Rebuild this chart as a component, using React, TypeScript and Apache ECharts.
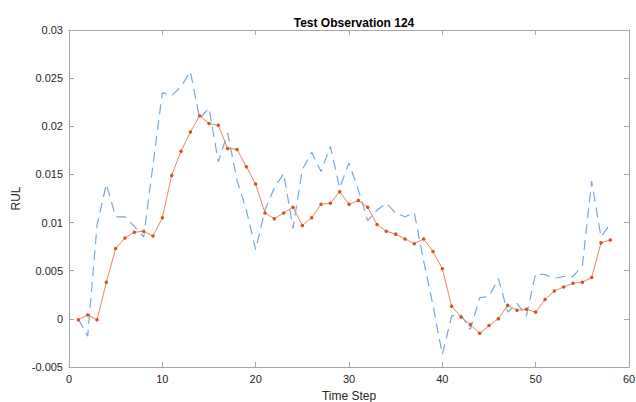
import React, { useEffect, useRef } from "react";
import * as echarts from "echarts";

const timeSteps = [1,2,3,4,5,6,7,8,9,10,11,12,13,14,15,16,17,18,19,20,21,22,23,24,25,26,27,28,29,30,31,32,33,34,35,36,37,38,39,40,41,42,43,44,45,46,47,48,49,50,51,52,53,54,55,56,57,58];

const trueRUL = [0,-0.0018,0.0097,0.014,0.0106,0.0106,0.0096,0.0085,0.016,0.0235,0.0232,0.0241,0.0257,0.0208,0.0219,0.0163,0.0193,0.0144,0.0113,0.0072,0.0113,0.0136,0.0151,0.0094,0.0155,0.0173,0.0153,0.0179,0.0136,0.0162,0.0134,0.0102,0.0113,0.012,0.011,0.0106,0.011,0.006,0.0014,-0.0037,0.0003,0.0004,-0.0011,0.0022,0.0023,0.0042,0.0007,0.0016,0.0003,0.0047,0.0046,0.0042,0.0044,0.0044,0.0055,0.0143,0.0085,0.0099];

const predictedRUL = [-0.0001,0.0004,-0.0001,0.0038,0.0073,0.0084,0.009,0.0091,0.0086,0.0105,0.0149,0.0174,0.0194,0.0211,0.0203,0.0201,0.0177,0.0176,0.0158,0.014,0.011,0.0104,0.011,0.0116,0.0097,0.0105,0.0119,0.012,0.0132,0.0119,0.0123,0.0116,0.0098,0.0091,0.0088,0.0083,0.0078,0.0083,0.007,0.0052,0.0013,0.0002,-0.0006,-0.0015,-0.0007,0,0.0014,0.0009,0.001,0.0007,0.002,0.0029,0.0033,0.0037,0.0038,0.0043,0.0079,0.0082];

const yTickLabels = ["-0.005","0","0.005","0.01","0.015","0.02","0.025","0.03"];

export default function App() {
  const ref = useRef<HTMLDivElement>(null);
  useEffect(() => {
    if (!ref.current) return;
    const chart = echarts.init(ref.current, null, { renderer: "svg" });
    const font = "'Liberation Sans', Helvetica, Arial, sans-serif";
    const axisLineColor = "#a6a6a6";
    const labelColor = "#262626";
    const trueData = timeSteps.map((t, i) => [t, trueRUL[i]]);
    const predData = timeSteps.map((t, i) => [t, predictedRUL[i]]);
    chart.setOption({
      animation: false,
      backgroundColor: "#ffffff",
      title: {
        text: "Test Observation 124",
        left: 349,
        textAlign: "center",
        top: 12,
        textStyle: { fontFamily: font, fontSize: 12, fontWeight: "bold", color: "#000" },
      },
      grid: { left: 69, right: 7, top: 30, bottom: 35, show: false, containLabel: false, outerBoundsMode: "none" },
      xAxis: [
        {
          type: "value",
          min: 0,
          max: 60,
          interval: 10,
          name: "Time Step",
          nameLocation: "middle",
          nameGap: 23,
          nameMoveOverlap: false,
          nameTextStyle: { fontFamily: font, fontSize: 12, color: labelColor },
          axisLine: { show: true, onZero: false, lineStyle: { color: axisLineColor, width: 1 } },
          axisTick: { show: true, inside: true, length: 5, lineStyle: { color: axisLineColor } },
          axisLabel: { fontFamily: font, fontSize: 11, color: labelColor, margin: 6 },
          splitLine: { show: false },
        },
        {
          type: "value",
          position: "top",
          min: 0,
          max: 60,
          interval: 10,
          axisLine: { show: true, onZero: false, lineStyle: { color: axisLineColor, width: 1 } },
          axisTick: { show: true, inside: true, length: 5, lineStyle: { color: axisLineColor } },
          axisLabel: { show: false },
          splitLine: { show: false },
        },
      ],
      yAxis: [
        {
          type: "value",
          min: -0.005,
          max: 0.03,
          interval: 0.005,
          name: "RUL",
          nameLocation: "middle",
          nameGap: 47,
          nameMoveOverlap: false,
          nameRotate: 90,
          nameTextStyle: { fontFamily: font, fontSize: 12, color: labelColor },
          axisLine: { show: true, onZero: false, lineStyle: { color: axisLineColor, width: 1 } },
          axisTick: { show: true, inside: true, length: 5, lineStyle: { color: axisLineColor } },
          axisLabel: {
            fontFamily: font,
            fontSize: 11,
            color: labelColor,
            margin: 6,
            formatter: (v: number) => {
              const idx = Math.round((v + 0.005) / 0.005);
              return yTickLabels[idx] ?? String(v);
            },
          },
          splitLine: { show: false },
        },
        {
          type: "value",
          position: "right",
          min: -0.005,
          max: 0.03,
          interval: 0.005,
          axisLine: { show: true, onZero: false, lineStyle: { color: axisLineColor, width: 1 } },
          axisTick: { show: true, inside: true, length: 5, lineStyle: { color: axisLineColor } },
          axisLabel: { show: false },
          splitLine: { show: false },
        },
      ],
      series: [
        {
          name: "True RUL",
          type: "line",
          data: trueData,
          xAxisIndex: 0,
          yAxisIndex: 0,
          showSymbol: false,
          symbol: "none",
          lineStyle: { color: "#72aade", width: 1.2, type: [10, 6] },
          z: 2,
        },
        {
          name: "Predicted RUL",
          type: "line",
          data: predData,
          xAxisIndex: 0,
          yAxisIndex: 0,
          symbol: "circle",
          symbolSize: 3.5,
          itemStyle: { color: "#d95319" },
          lineStyle: { color: "#e8875e", width: 1 },
          z: 3,
        },
      ],
    });
    return () => chart.dispose();
  }, []);
  return <div ref={ref} style={{ width: 636, height: 402, position: "fixed", left: 0, top: 0 }} />;
}
